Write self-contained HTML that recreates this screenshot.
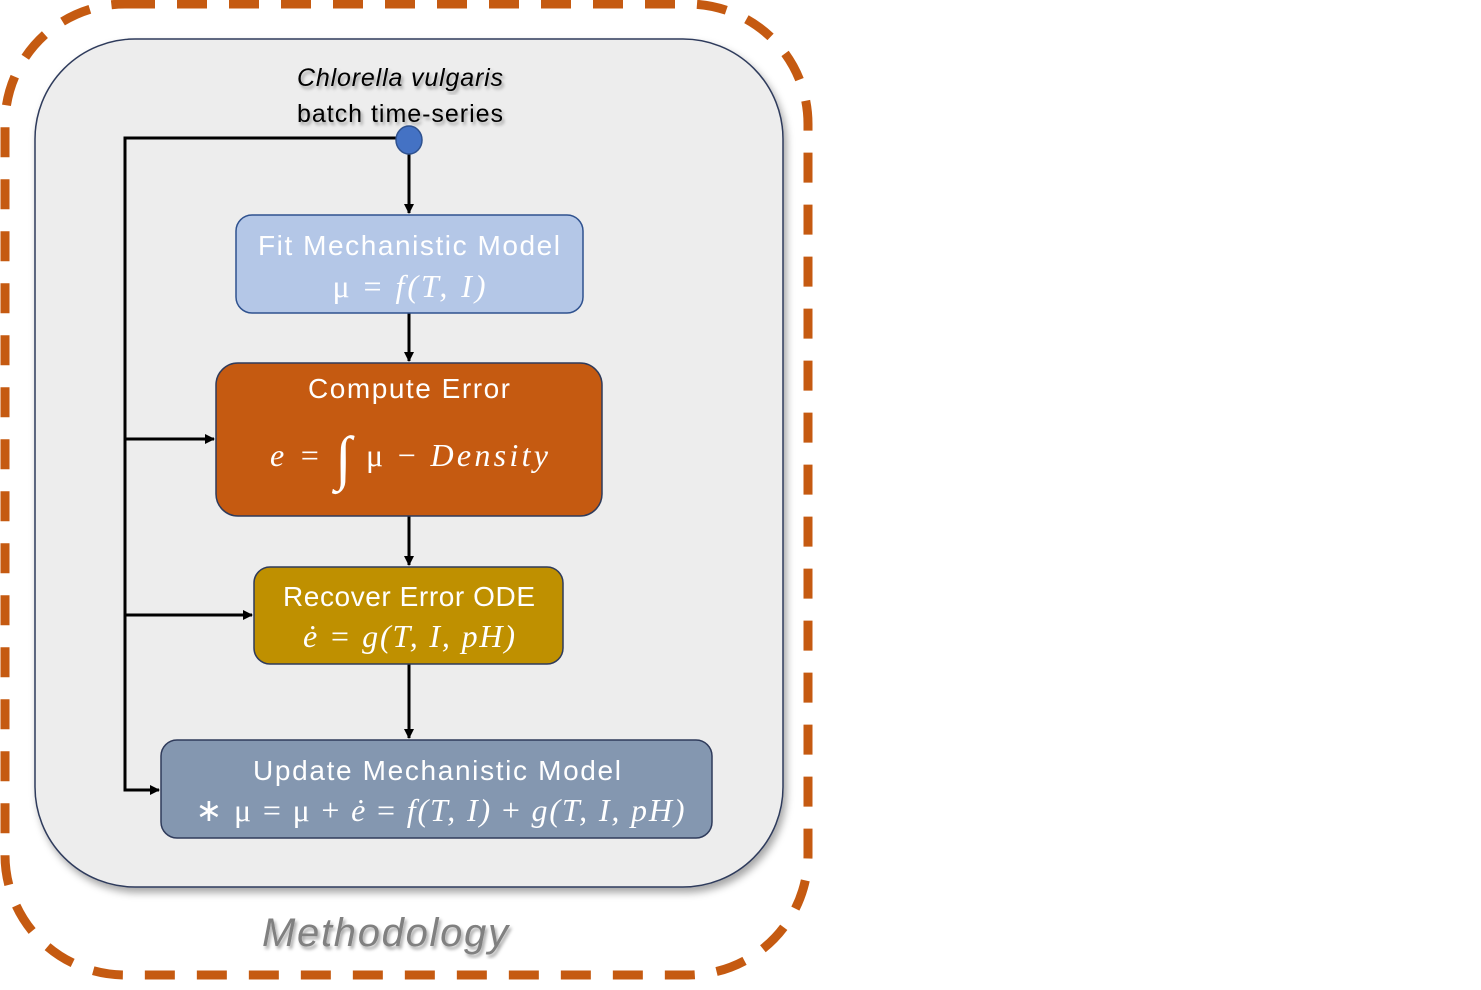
<!DOCTYPE html>
<html><head><meta charset="utf-8"><style>
html,body{margin:0;padding:0;background:#fff;}
svg{display:block;}
text{font-family:"Liberation Sans",sans-serif;}
.m{font-family:"Liberation Serif",serif;font-style:italic;}
</style></head><body>
<svg width="1481" height="990" viewBox="0 0 1481 990" xmlns="http://www.w3.org/2000/svg">
<defs>
<marker id="a" markerWidth="10" markerHeight="10" refX="9" refY="5" orient="auto" markerUnits="userSpaceOnUse"><path d="M0,0 L10,5 L0,10 Z" fill="#000"/></marker>
<filter id="sh" x="-10%" y="-10%" width="120%" height="120%"><feDropShadow dx="3" dy="5" stdDeviation="4" flood-color="#000" flood-opacity="0.35"/></filter>
<filter id="ts"><feDropShadow dx="2" dy="3" stdDeviation="1.5" flood-color="#000" flood-opacity="0.35"/></filter>
</defs>
<rect x="5" y="4" width="803" height="971" rx="120" fill="none" stroke="#c55a11" stroke-width="9" stroke-dasharray="30 22"/>
<rect x="35" y="39" width="748" height="848" rx="100" fill="#ededed" stroke="#2f3b5b" stroke-width="1.5" filter="url(#sh)"/>
<text x="400" y="86" font-size="25" font-style="italic" text-anchor="middle" fill="#000" filter="url(#ts)" textLength="206">Chlorella vulgaris</text>
<text x="400" y="122" font-size="25" text-anchor="middle" fill="#000" filter="url(#ts)" textLength="206">batch time-series</text>
<g stroke="#000" stroke-width="3" fill="none">
<polyline points="400,138 125,138 125,790 159,790" marker-end="url(#a)"/>
<line x1="125" y1="439" x2="214" y2="439" marker-end="url(#a)"/>
<line x1="125" y1="615" x2="252" y2="615" marker-end="url(#a)"/>
<line x1="409" y1="152" x2="409" y2="213" marker-end="url(#a)"/>
<line x1="409" y1="313" x2="409" y2="361" marker-end="url(#a)"/>
<line x1="409" y1="516" x2="409" y2="565" marker-end="url(#a)"/>
<line x1="409" y1="664" x2="409" y2="738" marker-end="url(#a)"/>
</g>
<ellipse cx="409" cy="140" rx="13" ry="14" fill="#4472c4" stroke="#2f528f" stroke-width="1.5"/>
<rect x="236" y="215" width="347" height="98" rx="16" fill="#b4c7e7" stroke="#2f528f" stroke-width="1.5"/>
<text x="409" y="255" font-size="28" text-anchor="middle" fill="#fff" textLength="302">Fit Mechanistic Model</text>
<text x="409" y="297" font-size="32" text-anchor="middle" fill="#fff" class="m" textLength="153"><tspan font-style="normal">μ =</tspan> f(T, I)</text>
<rect x="216" y="363" width="386" height="153" rx="22" fill="#c55a11" stroke="#2f3b5b" stroke-width="1.5"/>
<text x="409" y="398" font-size="28" text-anchor="middle" fill="#fff" textLength="202">Compute Error</text>
<text x="409" y="466" font-size="32" text-anchor="middle" fill="#fff" class="m" textLength="278">e =  <tspan font-size="60" font-style="normal" dy="12">∫</tspan><tspan dy="-12" font-style="normal"> μ − </tspan>Density</text>
<rect x="254" y="567" width="309" height="97" rx="16" fill="#bf9000" stroke="#2f3b5b" stroke-width="1.5"/>
<text x="409" y="606" font-size="28" text-anchor="middle" fill="#fff" textLength="252">Recover Error ODE</text>
<text x="409" y="647" font-size="32" text-anchor="middle" fill="#fff" class="m" textLength="212">ė = g(T, I, pH)</text>
<rect x="161" y="740" width="551" height="98" rx="16" fill="#8497b0" stroke="#2f3b5b" stroke-width="1.5"/>
<text x="437" y="780" font-size="28" text-anchor="middle" fill="#fff" textLength="368">Update Mechanistic Model</text>
<text x="440" y="821" font-size="32" text-anchor="middle" fill="#fff" class="m" textLength="489"><tspan font-style="normal">∗ μ = μ + </tspan>ė <tspan font-style="normal">=</tspan> f(T, I) <tspan font-style="normal">+</tspan> g(T, I, pH)</text>
<text x="385" y="946" font-size="40" font-style="italic" text-anchor="middle" fill="#808080" filter="url(#ts)" textLength="246">Methodology</text>
</svg>
</body></html>
